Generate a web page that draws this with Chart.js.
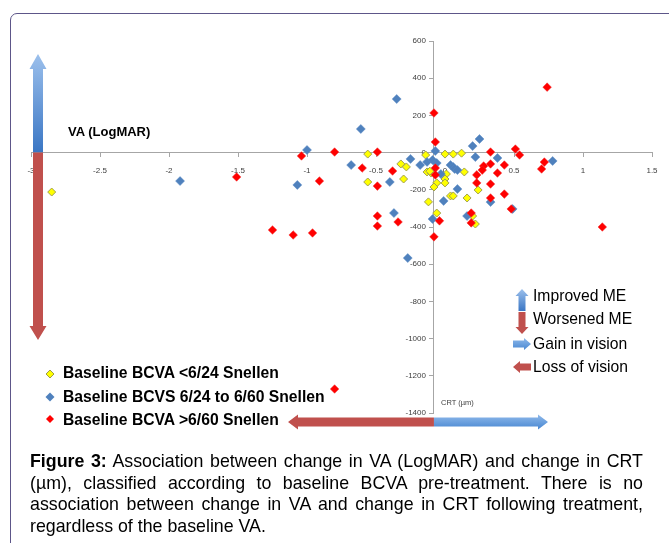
<!DOCTYPE html>
<html><head><meta charset="utf-8">
<script src="https://cdn.jsdelivr.net/npm/chart.js@4.4.1/dist/chart.umd.min.js"></script>
<style>
html,body{margin:0;padding:0;background:#fff;}
#wrap{position:relative;width:669px;height:543px;overflow:hidden;background:#fff;}
#frame{position:absolute;left:10px;top:13px;width:720px;height:620px;border:1.5px solid #5d5689;border-radius:7px;box-sizing:border-box;}
canvas{position:absolute;left:0;top:0;}
.t{position:absolute;white-space:nowrap;font-family:"Liberation Sans",Arial,sans-serif;color:#000;line-height:1;transform:translateY(-50%);}
.lg{font-weight:bold;font-size:15.7px;left:63px;}
.rl{font-size:15.7px;left:533px;}
#cap{position:absolute;left:30px;top:451px;width:613px;font-family:"Liberation Sans",Arial,sans-serif;font-size:17.8px;line-height:21.7px;color:#000;}
#cap div{text-align:justify;text-align-last:justify;white-space:nowrap;}
#cap div.last{text-align-last:left;}
</style></head>
<body>
<div id="wrap">
<div id="frame"></div>
<canvas id="c" width="669" height="543"></canvas>
<div class="t" style="left:68px;top:131px;font-weight:bold;font-size:13px;">VA (LogMAR)</div>
<div class="t" style="left:441px;top:403px;font-size:7.5px;color:#404040;">CRT (µm)</div>
<div class="t lg" style="top:373px;">Baseline BCVA &lt;6/24 Snellen</div>
<div class="t lg" style="top:397px;">Baseline BCVS 6/24 to 6/60 Snellen</div>
<div class="t lg" style="top:420px;">Baseline BCVA &gt;6/60 Snellen</div>
<div class="t rl" style="top:296px;">Improved ME</div>
<div class="t rl" style="top:319px;">Worsened ME</div>
<div class="t rl" style="top:344px;">Gain in vision</div>
<div class="t rl" style="top:367px;">Loss of vision</div>
<div id="cap">
<div><b>Figure 3:</b> Association between change in VA (LogMAR) and change in CRT</div>
<div>(µm), classified according to baseline BCVA pre-treatment. There is no</div>
<div>association between change in VA and change in CRT following treatment,</div>
<div class="last">regardless of the baseline VA.</div>
</div>
</div>
<script>
// ---- data (change in VA LogMAR, change in CRT µm) ----
const seriesNames = ["Baseline BCVA <6/24 Snellen","Baseline BCVS 6/24 to 6/60 Snellen","Baseline BCVA >6/60 Snellen"];
const yellowX = [-2.85,-0.56,-0.32,-0.28,-0.56,-0.30,-0.14,-0.13,-0.10,-0.11,-0.06,0.00,0.06,0.12,0.01,0.00,0.00,-0.08,0.14,-0.12,-0.06,0.04,0.06,0.16,0.24,0.20,0.22];
const yellowY = [-212,-8,-61,-77,-158,-142,-13,-104,-110,-100,-163,-8,-8,-3,-115,-142,-163,-185,-104,-265,-325,-233,-233,-244,-201,-341,-384];
const blueX = [-1.92,-1.00,-1.07,-0.35,-0.61,0.25,0.20,-0.27,-0.68,-0.25,-0.18,-0.40,-0.07,-0.13,-0.09,-0.06,-0.03,0.22,0.38,0.78,0.04,0.06,0.07,0.09,0.09,-0.01,0.33,0.49,-0.37,0.16,-0.09];
const blueY = [-153,14,-174,288,127,73,35,-567,-67,-34,-67,-158,9,-50,-40,-56,-115,-24,-29,-45,-67,-77,-88,-94,-196,-260,-266,-303,-325,-341,-357];
const redX = [-1.51,-1.04,-0.91,-0.80,-1.25,-1.10,-0.96,-0.80,1.14,0.74,-0.08,-0.08,-0.49,-0.60,-0.38,-0.49,-0.07,-0.07,-0.07,0.33,0.51,0.54,0.72,0.70,0.28,0.27,0.33,0.43,0.38,0.23,0.23,0.33,0.43,0.33,0.48,-0.49,-0.34,0.19,-0.04,0.19,-0.49];
const redY = [-131,-18,-153,3,-416,-443,-432,-1271,-400,352,213,-453,3,-83,-99,-180,57,-83,-120,3,19,-13,-51,-88,-72,-94,-61,-67,-110,-120,-163,-169,-223,-244,-303,-341,-373,-325,-367,-378,-395];
const xTickValues = [-3,-2.5,-2,-1.5,-1,-0.5,0,0.5,1,1.5];
const xTickLabels = ["-3","-2.5","-2","-1.5","-1","-0.5","0","0.5","1","1.5"];
const yTickValues = [-1400,-1200,-1000,-800,-600,-400,-200,0,200,400,600];
const yTickLabels = ["-1400","-1200","-1000","-800","-600","-400","-200","0","200","400","600"];
const yAxisCrossX = -0.08;

const pts = (xs, ys) => xs.map((x, i) => ({x, y: ys[i]}));

function arrow(ctx, x0, y0, x1, y1, sw, hw, hl, fill) {
  const dx = x1 - x0, dy = y1 - y0, L = Math.hypot(dx, dy);
  const ux = dx / L, uy = dy / L, px = -uy, py = ux;
  const bx = x1 - ux * hl, by = y1 - uy * hl;
  ctx.beginPath();
  ctx.moveTo(x0 + px * sw / 2, y0 + py * sw / 2);
  ctx.lineTo(bx + px * sw / 2, by + py * sw / 2);
  ctx.lineTo(bx + px * hw / 2, by + py * hw / 2);
  ctx.lineTo(x1, y1);
  ctx.lineTo(bx - px * hw / 2, by - py * hw / 2);
  ctx.lineTo(bx - px * sw / 2, by - py * sw / 2);
  ctx.lineTo(x0 - px * sw / 2, y0 - py * sw / 2);
  ctx.closePath();
  ctx.fillStyle = fill;
  ctx.fill();
}
function diamond(ctx, x, y, r, fill, stroke) {
  ctx.beginPath();
  ctx.moveTo(x, y - r); ctx.lineTo(x + r, y); ctx.lineTo(x, y + r); ctx.lineTo(x - r, y); ctx.closePath();
  ctx.fillStyle = fill; ctx.fill();
  if (stroke) { ctx.lineWidth = 1; ctx.strokeStyle = stroke; ctx.stroke(); }
}

const decor = {
  id: 'decor',
  afterDraw(chart) {
    const ctx = chart.ctx;
    const xs = chart.scales.x, ys = chart.scales.y;
    const ax = xs.getPixelForValue(yAxisCrossX);
    const ay = ys.getPixelForValue(0);
    ctx.save();
    // vertical arrow
    let g = ctx.createLinearGradient(0, 54, 0, ay);
    g.addColorStop(0, '#9cc0ec'); g.addColorStop(1, '#3a76c4');
    arrow(ctx, 38, ay, 38, 54, 10, 17, 15, g);
    arrow(ctx, 38, ay, 38, 340, 10, 17, 14, '#c0504d');
    // horizontal arrow
    arrow(ctx, ax, 422, 288, 422, 9, 15, 10, '#c0504d');
    g = ctx.createLinearGradient(0, 415, 0, 429);
    g.addColorStop(0, '#8db8ea'); g.addColorStop(1, '#4a88d2');
    arrow(ctx, ax, 422, 548, 422, 9, 15, 10, g);
    // small legend arrows
    g = ctx.createLinearGradient(0, 289, 0, 311);
    g.addColorStop(0, '#9cc0ec'); g.addColorStop(1, '#3a76c4');
    arrow(ctx, 522, 311, 522, 289, 7, 13, 7, g);
    arrow(ctx, 522, 312, 522, 334, 7, 13, 7, '#c0504d');
    g = ctx.createLinearGradient(0, 338, 0, 350);
    g.addColorStop(0, '#8db8ea'); g.addColorStop(1, '#4a88d2');
    arrow(ctx, 513, 344, 531, 344, 7, 12, 7, g);
    arrow(ctx, 531, 367, 513, 367, 7, 12, 7, '#c0504d');
    // series legend markers
    diamond(ctx, 50, 374, 4, '#ffff00', '#9c9c48');
    diamond(ctx, 50, 397, 4.5, '#4f81bd', null);
    diamond(ctx, 50, 419, 4, '#ff0000', null);
    ctx.restore();
  }
};

const fontFam = '"Liberation Sans", Arial, sans-serif';
new Chart(document.getElementById('c'), {
  type: 'scatter',
  data: {
    datasets: [
      {label: seriesNames[0], data: pts(yellowX, yellowY), pointStyle: 'rectRot', pointRadius: 4, backgroundColor: '#ffff00', borderColor: '#a0a050', borderWidth: 1, order: 3},
      {label: seriesNames[1], data: pts(blueX, blueY), pointStyle: 'rectRot', pointRadius: 4.5, backgroundColor: '#4f81bd', borderColor: '#5a8ac4', borderWidth: 0.5, order: 2},
      {label: seriesNames[2], data: pts(redX, redY), pointStyle: 'rectRot', pointRadius: 4.3, backgroundColor: '#ff0000', borderColor: '#f03030', borderWidth: 0.5, order: 1}
    ]
  },
  options: {
    responsive: false, animation: false, devicePixelRatio: 1,
    layout: {padding: {left: 31, right: 17, top: 41, bottom: 130}},
    plugins: {legend: {display: false}, tooltip: {enabled: false}},
    scales: {
      x: {
        type: 'linear', min: -3, max: 1.5, position: {y: 0},
        afterFit(s) { s.height = 0; },
        afterBuildTicks(s) { s.ticks = xTickValues.map(v => ({value: v})); },
        ticks: {callback: (v, i) => xTickLabels[i], font: {size: 8, family: fontFam}, color: '#404040', padding: 9, maxRotation: 0, autoSkip: false},
        grid: {drawOnChartArea: false, drawTicks: true, tickLength: 4, color: '#a6a6a6'},
        border: {color: '#a6a6a6', width: 1}
      },
      y: {
        type: 'linear', min: -1400, max: 600, position: {x: yAxisCrossX},
        afterFit(s) {
          s.width = 0;
          if (!s._labelShiftPatched) {
            const orig = s._computeLabelItems.bind(s);
            s._computeLabelItems = (ca) => {
              const items = orig(ca);
              items.forEach(it => { it.options.translation[0] -= 8; it.options.textAlign = 'right'; });
              return items;
            };
            s._labelShiftPatched = true;
          }
        },
        afterBuildTicks(s) { s.ticks = yTickValues.map(v => ({value: v})); },
        ticks: {callback: (v, i) => yTickLabels[i], font: {size: 8, family: fontFam}, color: '#404040', padding: 4, autoSkip: false},
        grid: {drawOnChartArea: false, drawTicks: true, tickLength: 4, color: '#a6a6a6'},
        border: {color: '#a6a6a6', width: 1}
      }
    }
  },
  plugins: [decor]
});
</script>
</body></html>
